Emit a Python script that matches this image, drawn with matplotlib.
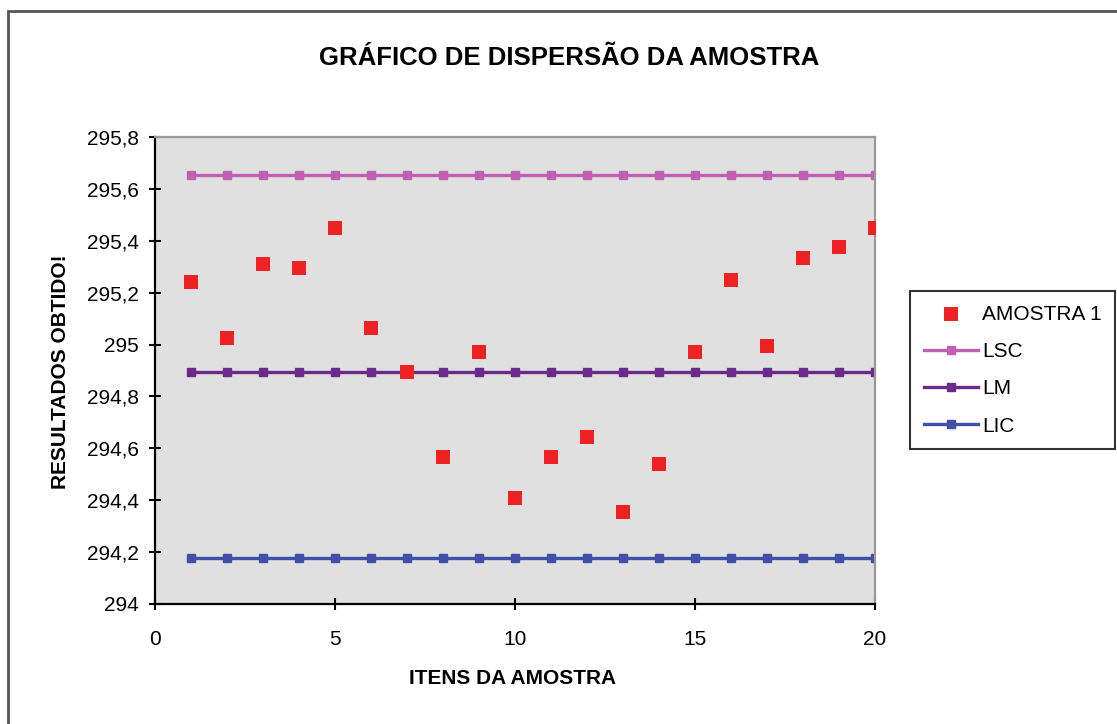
import matplotlib
matplotlib.use("Agg")
import matplotlib.pyplot as plt
from matplotlib.patches import Rectangle
from matplotlib.ticker import FuncFormatter, MultipleLocator

plt.rcParams['font.family'] = ['Liberation Sans', 'DejaVu Sans']

itens = list(range(1, 21))
amostra1 = [295.24, 295.025, 295.31, 295.295, 295.45, 295.065, 294.895, 294.565, 294.97, 294.41,
            294.565, 294.645, 294.355, 294.54, 294.97, 295.25, 294.995, 295.335, 295.375, 295.45]
lsc = [295.655] * 20
lm = [294.895] * 20
lic = [294.178] * 20

title = "GRÁFICO DE DISPERSÃO DA AMOSTRA"
xlabel = "ITENS DA AMOSTRA"
ylabel = "RESULTADOS OBTIDO!"

fig = plt.figure(figsize=(11.17, 7.24), dpi=100)
fig.patch.set_facecolor('white')

# outer chart border
fig.add_artist(Rectangle((8/1117, -0.05), 1.2, (724-11)/724 + 0.05, transform=fig.transFigure,
                         fill=False, edgecolor='#555555', linewidth=2.0))

ax = fig.add_axes([155/1117, (724-604)/724, 720/1117, 467/724])
ax.set_facecolor('#E0E0E0')

ax.plot(itens, lsc, color='#C060B0', linewidth=2.4, marker='s', markersize=5.5, label='LSC', zorder=2)
ax.plot(itens, lm, color='#6A2A8A', linewidth=2.4, marker='s', markersize=5.5, label='LM', zorder=2)
ax.plot(itens, lic, color='#4050A8', linewidth=2.4, marker='s', markersize=5.5, label='LIC', zorder=2)
ax.scatter(itens, amostra1, marker='s', s=90, color='#EE2222', label='AMOSTRA 1', zorder=3, linewidths=0)

ax.set_xlim(0, 20)
ax.set_ylim(294, 295.8)
ax.xaxis.set_major_locator(MultipleLocator(5))
ax.yaxis.set_major_locator(MultipleLocator(0.2))

def yfmt(v, pos):
    s = f"{v:.1f}"
    if s.endswith(".0"):
        s = s[:-2]
    return s.replace('.', ',')

ax.yaxis.set_major_formatter(FuncFormatter(yfmt))
ax.tick_params(axis='both', direction='inout', length=9, width=1.5, labelsize=15, colors='black')
ax.tick_params(axis='x', pad=14)
ax.tick_params(axis='y', pad=7)

for side in ['left', 'bottom']:
    ax.spines[side].set_color('black')
    ax.spines[side].set_linewidth(1.6)
for side in ['top', 'right']:
    ax.spines[side].set_color('#999999')
    ax.spines[side].set_linewidth(1.6)

fig.text(569/1117, 1 - 58/724, title, ha='center', va='center', fontsize=18.5, fontweight='bold')
fig.text(513/1117, 1 - 678/724, xlabel, ha='center', va='center', fontsize=15, fontweight='bold')
fig.text(60/1117, 1 - 372/724, ylabel, ha='center', va='center', rotation=90, fontsize=15, fontweight='bold')

handles, labels = ax.get_legend_handles_labels()
order = [3, 0, 1, 2]
leg = fig.legend([handles[i] for i in order], [labels[i] for i in order],
                 loc='upper left', bbox_to_anchor=(910/1117, 1 - 291/724),
                 fontsize=15, frameon=True, fancybox=False, edgecolor='black',
                 borderpad=0.65, labelspacing=0.88, handlelength=2.6, handletextpad=0.2, borderaxespad=0)
leg.get_frame().set_linewidth(1.5)

fig.savefig('out.png', dpi=100)
